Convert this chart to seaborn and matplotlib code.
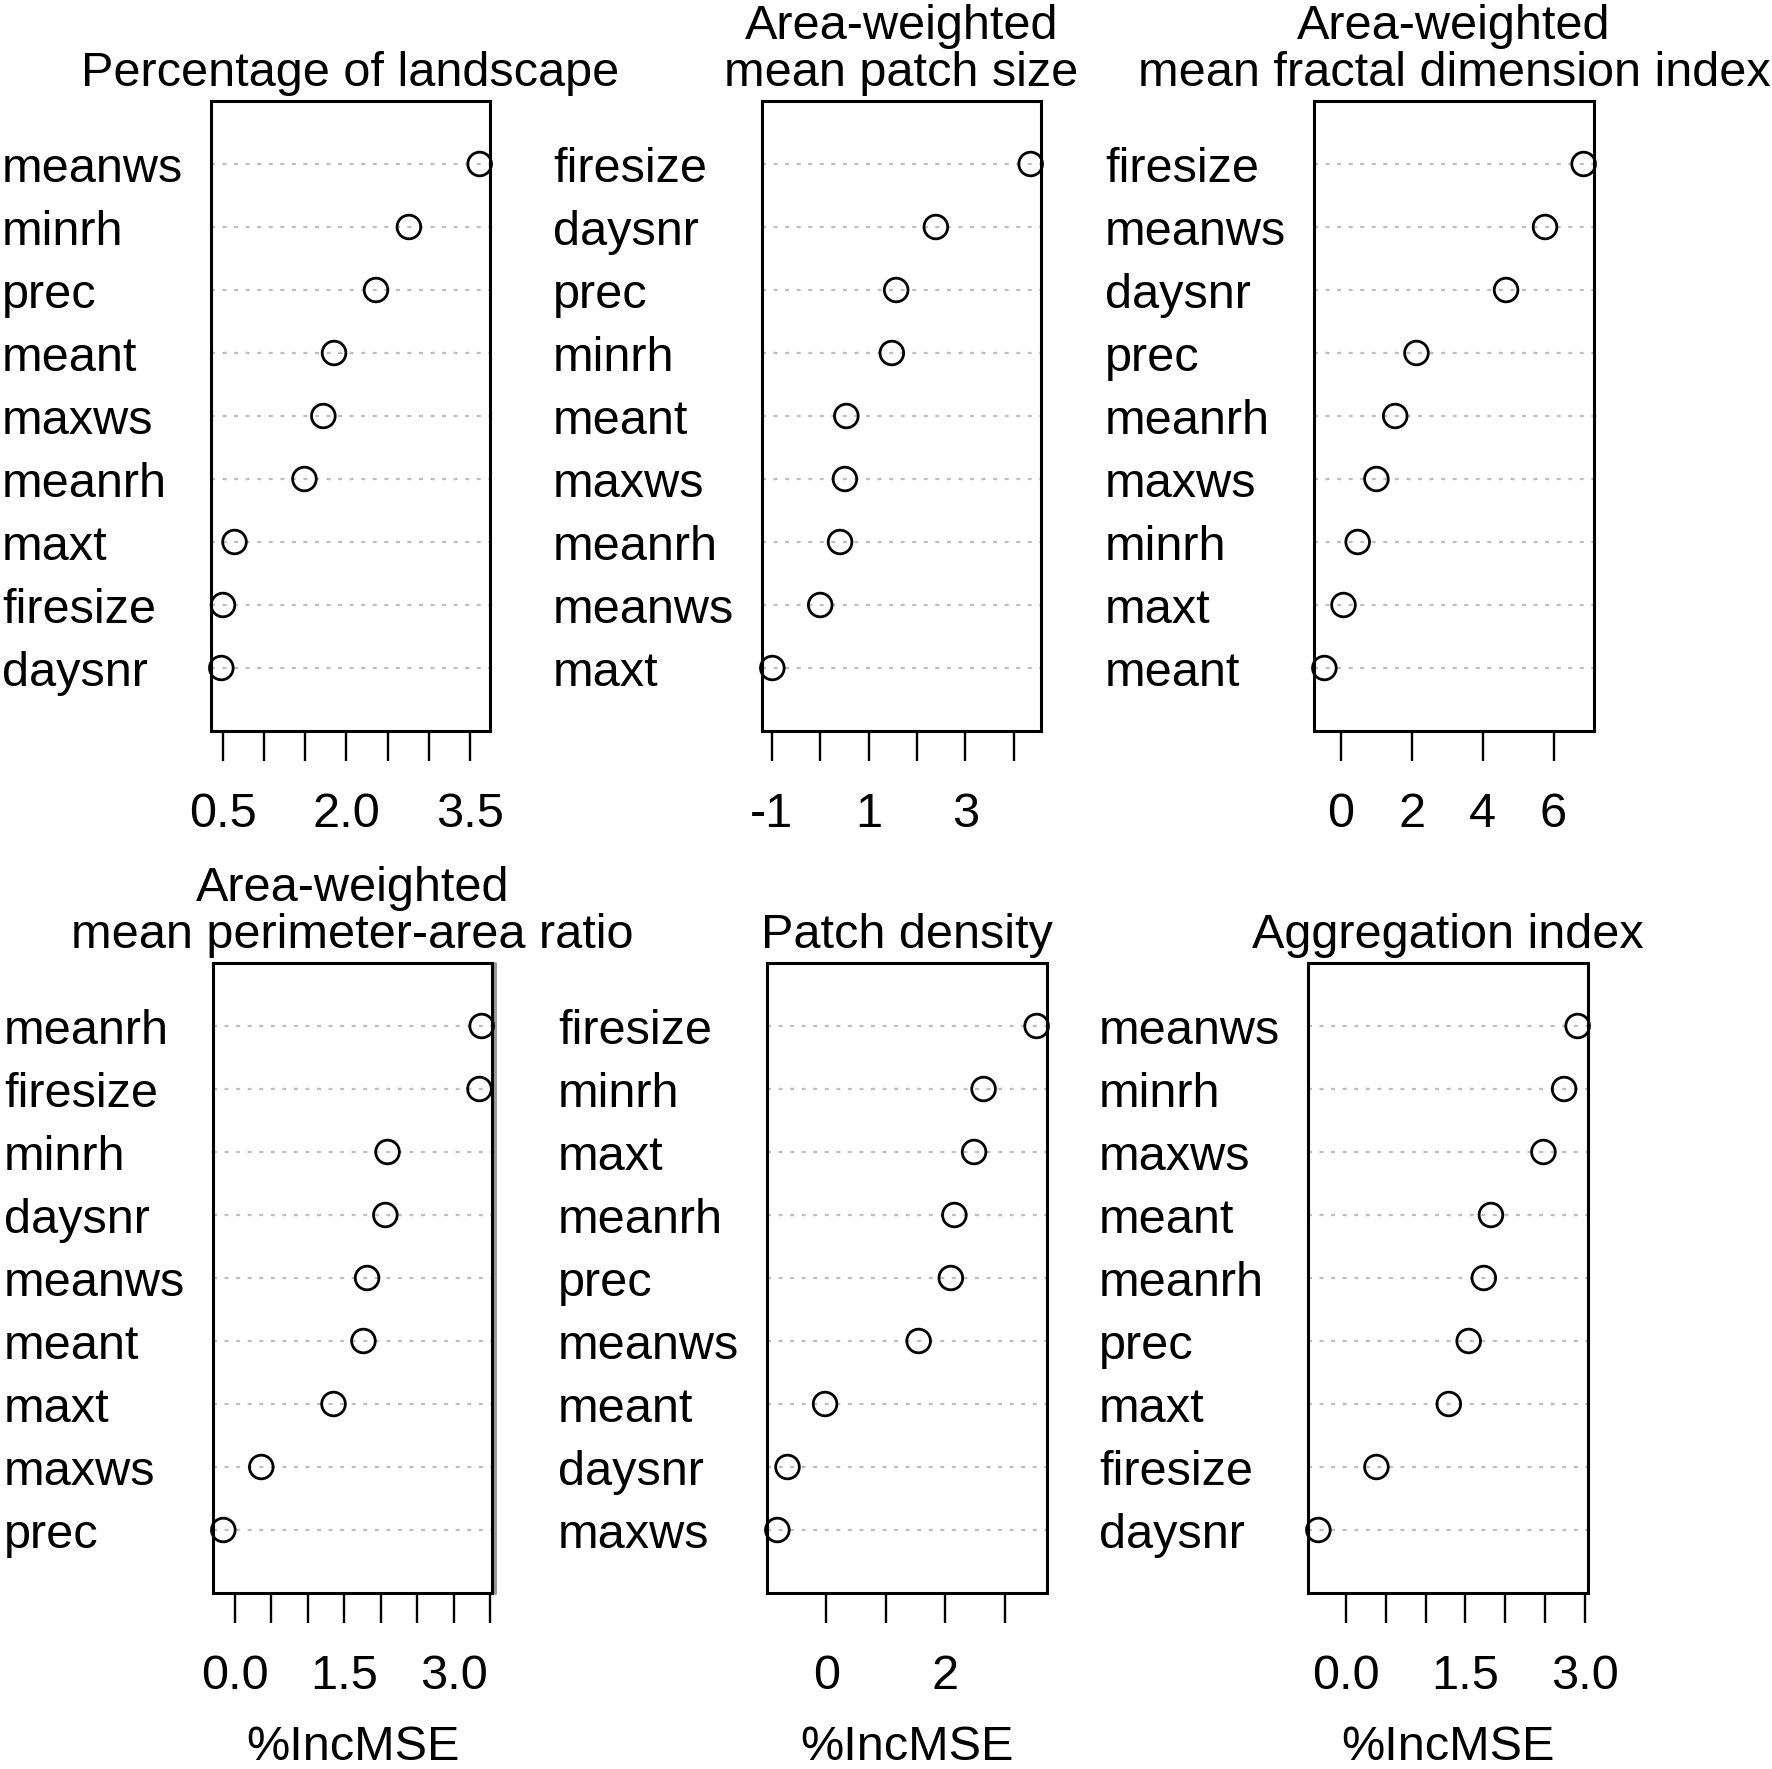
import numpy as np
import pandas as pd
import matplotlib
matplotlib.use("Agg")
import matplotlib.pyplot as plt
import seaborn as sns

# ---------------- data ----------------
titles = [
    "Percentage of landscape",
    "Area-weighted\nmean patch size",
    "Area-weighted\nmean fractal dimension index",
    "Area-weighted\nmean perimeter-area ratio",
    "Patch density",
    "Aggregation index",
]

labels_pland = ["meanws", "minrh", "prec", "meant", "maxws", "meanrh", "maxt", "firesize", "daysnr"]
values_pland = [3.62, 2.76, 2.36, 1.85, 1.72, 1.49, 0.64, 0.50, 0.48]

labels_area = ["firesize", "daysnr", "prec", "minrh", "meant", "maxws", "meanrh", "meanws", "maxt"]
values_area = [4.35, 2.39, 1.57, 1.48, 0.54, 0.51, 0.41, 0.00, -0.99]

labels_frac = ["firesize", "meanws", "daysnr", "prec", "meanrh", "maxws", "minrh", "maxt", "meant"]
values_frac = [6.85, 5.76, 4.66, 2.13, 1.53, 1.00, 0.47, 0.07, -0.47]

labels_para = ["meanrh", "firesize", "minrh", "daysnr", "meanws", "meant", "maxt", "maxws", "prec"]
values_para = [3.38, 3.35, 2.09, 2.06, 1.81, 1.76, 1.35, 0.36, -0.16]

labels_pd = ["firesize", "minrh", "maxt", "meanrh", "prec", "meanws", "meant", "daysnr", "maxws"]
values_pd = [3.53, 2.64, 2.48, 2.15, 2.09, 1.55, -0.02, -0.65, -0.82]

labels_ai = ["meanws", "minrh", "maxws", "meant", "meanrh", "prec", "maxt", "firesize", "daysnr"]
values_ai = [2.91, 2.74, 2.48, 1.82, 1.73, 1.54, 1.29, 0.38, -0.35]

xticks_list = [
    [0.5, 1.0, 1.5, 2.0, 2.5, 3.0, 3.5],
    [-1, 0, 1, 2, 3, 4],
    [0, 2, 4, 6],
    [0.0, 0.5, 1.0, 1.5, 2.0, 2.5, 3.0, 3.5],
    [0, 1, 2, 3],
    [0.0, 0.5, 1.0, 1.5, 2.0, 2.5, 3.0],
]
xticklabels_list = [
    ["0.5", "", "", "2.0", "", "", "3.5"],
    ["-1", "", "1", "", "3", ""],
    ["0", "2", "4", "6"],
    ["0.0", "", "", "1.5", "", "", "3.0", ""],
    ["0", "", "2", ""],
    ["0.0", "", "", "1.5", "", "", "3.0"],
]
xlabel_text = "%IncMSE"

panels = [
    (labels_pland, values_pland),
    (labels_area, values_area),
    (labels_frac, values_frac),
    (labels_para, values_para),
    (labels_pd, values_pd),
    (labels_ai, values_ai),
]

# ---------------- style ----------------
sns.set_theme(style="white")
plt.rcParams["font.family"] = ["Liberation Sans", "DejaVu Sans"]
plt.rcParams["text.color"] = "black"
plt.rcParams["axes.labelcolor"] = "black"
plt.rcParams["xtick.color"] = "black"
plt.rcParams["ytick.color"] = "black"

W, H = 1772, 1769
fig = plt.figure(figsize=(W / 100, H / 100), dpi=100)
fig.patch.set_facecolor("white")

# axes boxes in pixels: (left, top, right, bottom)
boxes = [
    (211, 101, 490, 731),
    (762, 101, 1041, 731),
    (1314, 101, 1594, 731),
    (213, 963, 492, 1593),
    (767, 963, 1047, 1593),
    (1308, 963, 1588, 1593),
]

FS = 35
for i, ((labs, vals), box) in enumerate(zip(panels, boxes)):
    l, t, r, b = box
    ax = fig.add_axes([l / W, 1 - b / H, (r - l) / W, (b - t) / H])
    n = len(labs)
    pos = np.arange(n, 0, -1)
    df = pd.DataFrame({"value": vals, "pos": pos, "label": labs})
    for p in pos:
        ax.axhline(p, color="#bebebe", lw=1.6, dashes=(1.8, 3.4), zorder=1)
    sns.scatterplot(data=df, x="value", y="pos", ax=ax, s=290, marker="o",
                    facecolor="none", edgecolor="black", linewidth=2.0,
                    zorder=3, clip_on=False, legend=False)
    lo, hi = min(vals), max(vals)
    rng = hi - lo
    ax.set_xlim(lo - 0.04 * rng, hi + 0.04 * rng)
    ax.set_ylim(0, n + 1)
    ax.set_yticks(pos)
    ax.set_yticklabels(labs, fontsize=FS, ha="left", color="black")
    ax.tick_params(axis="y", length=0, pad=150.5)
    ax.set_xticks(xticks_list[i])
    ax.set_xticklabels(xticklabels_list[i], fontsize=FS, color="black")
    ax.tick_params(axis="x", direction="out", length=21.6, width=1.7,
                   pad=22, color="black", bottom=True)
    for s in ax.spines.values():
        s.set_visible(True)
        s.set_color("black")
        s.set_linewidth(2.2)
    ax.set_xlabel("")
    ax.set_ylabel("")
    ax.set_title(titles[i], fontsize=FS, pad=11, linespacing=1.05, color="black")
    if i >= 3:
        ax.set_xlabel(xlabel_text, fontsize=FS, labelpad=19, color="black")
    if i == 3:
        ax.plot([1.011, 1.011], [0, 1], transform=ax.transAxes, color="#999999",
                lw=2.2, clip_on=False, zorder=0)

fig.savefig("out.png", dpi=100, facecolor="white")
